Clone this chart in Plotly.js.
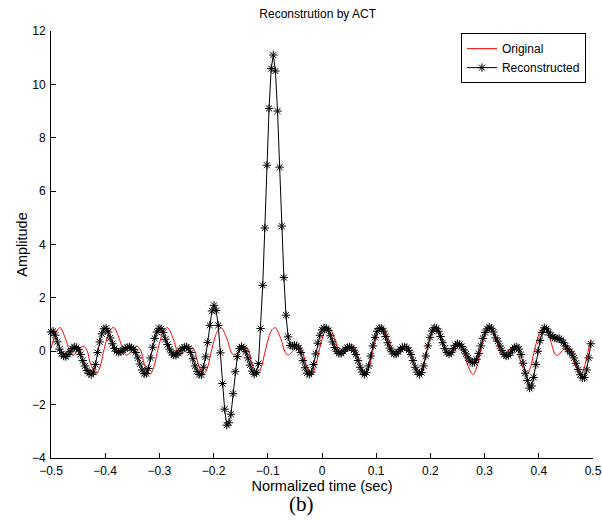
<!DOCTYPE html>
<html><head><meta charset="utf-8">
<script src="https://cdn.plot.ly/plotly-3.0.1.min.js"></script>
<style>html,body{margin:0;padding:0;background:#fff}#chart{width:602px;height:521px}</style>
</head><body><div id="chart"></div>
<script>
// Sampling grid of the reconstructed signal (256 samples, -0.5 ... 0.496 s)
const sampleStart = -0.5;
const sampleStep = 1 / 256;

// Reconstructed signal (black, one value per sample)
const reconstructed = [
  0.72, 0.75, 0.6, 0.35, 0.08, -0.09, -0.18, -0.2, -0.12, -0.02,
  0.1, 0.16, 0.14, 0.06, -0.12, -0.35, -0.55, -0.72, -0.83, -0.87,
  -0.78, -0.5, -0.05, 0.35, 0.65, 0.84,
  0.86, 0.72, 0.5, 0.28, 0.1, 0.0, -0.04, -0.02, 0.04, 0.1,
  0.14, 0.16, 0.13, 0.07, -0.05, -0.25, -0.48, -0.7, -0.84, -0.84,
  -0.65, -0.25, 0.15, 0.48, 0.72, 0.86,
  0.84, 0.7, 0.45, 0.25, 0.08, -0.06, -0.14, -0.15, -0.08, 0.02,
  0.1, 0.15, 0.16, 0.1, -0.05, -0.28, -0.55, -0.75, -0.87, -0.88,
  -0.6,
  -0.21, 0.33, 0.97, 1.51, 1.72, 1.53, 0.97, -0.06, -1.21, -2.17,
  -2.77, -2.68, -2.36, -1.59, -0.77, -0.2, 0.1, 0.17, 0.12, -0.02,
  -0.25, -0.52, -0.74, -0.86, -0.8, -0.46, 0.85, 2.47, 4.62, 6.97,
  9.1, 10.59, 11.1, 10.5, 9.0, 6.9, 4.69, 2.76, 1.35, 0.54,
  0.22,
  0.2, 0.22, 0.2, 0.12, -0.05, -0.35, -0.62, -0.82, -0.87, -0.78,
  -0.5, -0.1, 0.3, 0.6, 0.8, 0.87,
  0.86, 0.78, 0.58, 0.35, 0.14, 0.0, -0.08, -0.08, 0.0, 0.08,
  0.14, 0.16, 0.13, 0.04, -0.12, -0.35, -0.6, -0.78, -0.87, -0.8,
  -0.55, -0.18, 0.2, 0.52, 0.75, 0.86, 0.86, 0.75, 0.55, 0.32,
  0.12, -0.02, -0.1, -0.1, -0.02, 0.07, 0.14, 0.16, 0.13, 0.04,
  -0.12, -0.35, -0.6, -0.78, -0.87, -0.8, -0.55, -0.18, 0.2, 0.52,
  0.76, 0.88, 0.86, 0.75, 0.55, 0.32, 0.1, -0.05, -0.1,
  -0.05, 0.1, 0.22, 0.28, 0.26, 0.18, 0.05, -0.1, -0.25, -0.37,
  -0.43, -0.42, -0.3, -0.08, 0.2, 0.48, 0.7, 0.84, 0.9, 0.86,
  0.72, 0.5,
  0.38, 0.2, 0.03, -0.12, -0.18, -0.16, -0.06, 0.06, 0.14, 0.16,
  0.08, -0.12, -0.45, -0.82, -1.1, -1.38, -1.3, -0.98, -0.5, 0.0,
  0.4, 0.7, 0.88, 0.84, 0.72, 0.6, 0.53, 0.5, 0.48, 0.47,
  0.42, 0.33, 0.2, 0.08, -0.02, -0.1, -0.25, -0.45, -0.68, -0.88,
  -1.0, -0.98, -0.7, -0.25, 0.28
];

// Original signal (red): read-off key points, drawn as a smooth line
const originalTime = [
  -0.5, -0.4897,
  -0.4834, -0.4734, -0.4634, -0.4584, -0.4524, -0.4404, -0.4334, -0.4274, -0.4164, -0.4094, -0.4034, -0.3964, -0.3904,
  -0.3841, -0.3741, -0.3641, -0.3591, -0.3531, -0.3411, -0.3341, -0.3281, -0.3171, -0.3101, -0.3041, -0.2971, -0.2911,
  -0.2848, -0.2748, -0.2648, -0.2598, -0.2538, -0.2418, -0.2348, -0.2288, -0.2178, -0.2108, -0.2048, -0.1978, -0.1918,
  -0.1855, -0.1755, -0.1655, -0.1605, -0.1545, -0.1425, -0.1355, -0.1295, -0.1185, -0.1115, -0.1055, -0.0985, -0.0925,
  -0.0862, -0.0762, -0.0662, -0.0612, -0.0552, -0.0432, -0.0362, -0.0302, -0.0192, -0.0122, -0.0062, 0.0008, 0.0068,
  0.0131, 0.0231, 0.0331, 0.0381, 0.0441, 0.0561, 0.0631, 0.0691, 0.0801, 0.0871, 0.0931, 0.1001, 0.1061,
  0.1124, 0.1224, 0.1324, 0.1374, 0.1434, 0.1554, 0.1624, 0.1684, 0.1794, 0.1864, 0.1924, 0.1994, 0.2054,
  0.2117, 0.2217, 0.2317, 0.2367, 0.2427, 0.2547, 0.2617, 0.2677, 0.2787, 0.2857, 0.2917, 0.2987, 0.3047,
  0.311, 0.321, 0.331, 0.336, 0.342, 0.354, 0.361, 0.367, 0.378, 0.385, 0.391, 0.398, 0.404,
  0.4103, 0.4203, 0.4303, 0.4353, 0.4413, 0.4533, 0.4603, 0.4663, 0.4773, 0.4843, 0.4903, 0.4961
];
const originalValue = [
  0.1, 0.75,
  0.89, 0.48, -0.1, -0.15, -0.02, 0.19, 0.02, -0.45, -0.86, -0.58, -0.05, 0.5, 0.8,
  0.89, 0.47, -0.1, -0.14, -0.02, 0.19, 0.02, -0.46, -0.86, -0.58, -0.05, 0.5, 0.8,
  0.88, 0.48, -0.1, -0.14, -0.02, 0.18, 0.02, -0.45, -0.85, -0.58, -0.05, 0.5, 0.79,
  0.87, 0.47, -0.1, -0.13, -0.02, 0.18, 0.02, -0.45, -0.85, -0.57, -0.05, 0.5, 0.8,
  0.88, 0.48, -0.1, -0.14, -0.02, 0.19, 0.02, -0.45, -0.86, -0.58, -0.05, 0.5, 0.8,
  0.89, 0.48, -0.1, -0.14, -0.02, 0.19, 0.02, -0.45, -0.86, -0.58, -0.05, 0.5, 0.8,
  0.89, 0.48, -0.1, -0.14, -0.02, 0.19, 0.02, -0.45, -0.86, -0.58, -0.05, 0.5, 0.8,
  0.9, 0.48, -0.1, -0.14, -0.02, 0.19, 0.02, -0.46, -0.87, -0.58, -0.05, 0.5, 0.8,
  0.9, 0.48, -0.1, -0.14, -0.02, 0.19, 0.02, -0.45, -0.86, -0.58, -0.05, 0.5, 0.8,
  0.9, 0.48, -0.11, -0.15, -0.02, 0.18, 0.02, -0.46, -0.88, -0.58, -0.05, 0.42
];

const xTicks = [-0.5, -0.4, -0.3, -0.2, -0.1, 0, 0.1, 0.2, 0.3, 0.4, 0.5];
const xTickLabels = ['\u22120.5', '\u22120.4', '\u22120.3', '\u22120.2', '\u22120.1', '0', '0.1', '0.2', '0.3', '0.4', '0.5'];
const yTicks = [-4, -2, 0, 2, 4, 6, 8, 10, 12];
const yTickLabels = ['\u22124', '\u22122', '0', '2', '4', '6', '8', '10', '12'];

const reconstructedTime = reconstructed.map((_, i) => sampleStart + i * sampleStep);

const traces = [
  {
    x: originalTime, y: originalValue, type: 'scatter', mode: 'lines', name: 'Original',
    line: {color: '#ff0000', width: 1, shape: 'spline', smoothing: 1}
  },
  {
    x: reconstructedTime, y: reconstructed, type: 'scatter', mode: 'lines+markers', name: 'Reconstructed',
    line: {color: '#000000', width: 1},
    marker: {symbol: 'asterisk-open', size: 7, color: '#000000', line: {color: '#000000', width: 1}},
    cliponaxis: false
  }
];

const axisCommon = {
  ticks: 'inside', ticklen: 5, tickwidth: 1, tickcolor: '#000',
  showline: true, linecolor: '#000', linewidth: 1,
  showgrid: false, zeroline: false, mirror: false,
  tickfont: {size: 12, color: '#000'}
};

const layout = {
  width: 602, height: 521,
  margin: {l: 51, r: 9, t: 31, b: 63},
  paper_bgcolor: '#ffffff', plot_bgcolor: '#ffffff',
  font: {family: '"Liberation Sans", Arial, Helvetica, sans-serif', size: 12, color: '#000'},
  title: {
    text: 'Reconstrution by ACT', font: {size: 12, color: '#000'},
    xref: 'paper', x: 0.492, xanchor: 'center',
    yref: 'container', y: 1 - 14 / 521, yanchor: 'middle'
  },
  xaxis: Object.assign({}, axisCommon, {
    range: [-0.5, 0.50001], tickmode: 'array', tickvals: xTicks, ticktext: xTickLabels,
    ticklabelstandoff: 2,
    title: {text: 'Normalized time (sec)', font: {size: 14.5, color: '#000'}, standoff: 0}
  }),
  yaxis: Object.assign({}, axisCommon, {
    range: [-4, 12], tickmode: 'array', tickvals: yTicks, ticktext: yTickLabels,
    ticklabelstandoff: 2,
    title: {text: 'Amplitude', font: {size: 14.5, color: '#000'}, standoff: 0}
  }),
  showlegend: true,
  legend: {
    x: 0.987, xanchor: 'right', y: 0.995, yanchor: 'top',
    bgcolor: '#ffffff', bordercolor: '#000', borderwidth: 1,
    font: {size: 12, color: '#000'}, traceorder: 'normal'
  },
  annotations: [{
    text: '(b)', xref: 'paper', yref: 'paper', x: 0.463, y: -0.107,
    xanchor: 'center', yanchor: 'middle', showarrow: false,
    font: {family: '"Liberation Serif", "Times New Roman", serif', size: 21, color: '#000'}
  }]
};

Plotly.newPlot('chart', traces, layout, {displayModeBar: false, staticPlot: true});
</script>
</body></html>
